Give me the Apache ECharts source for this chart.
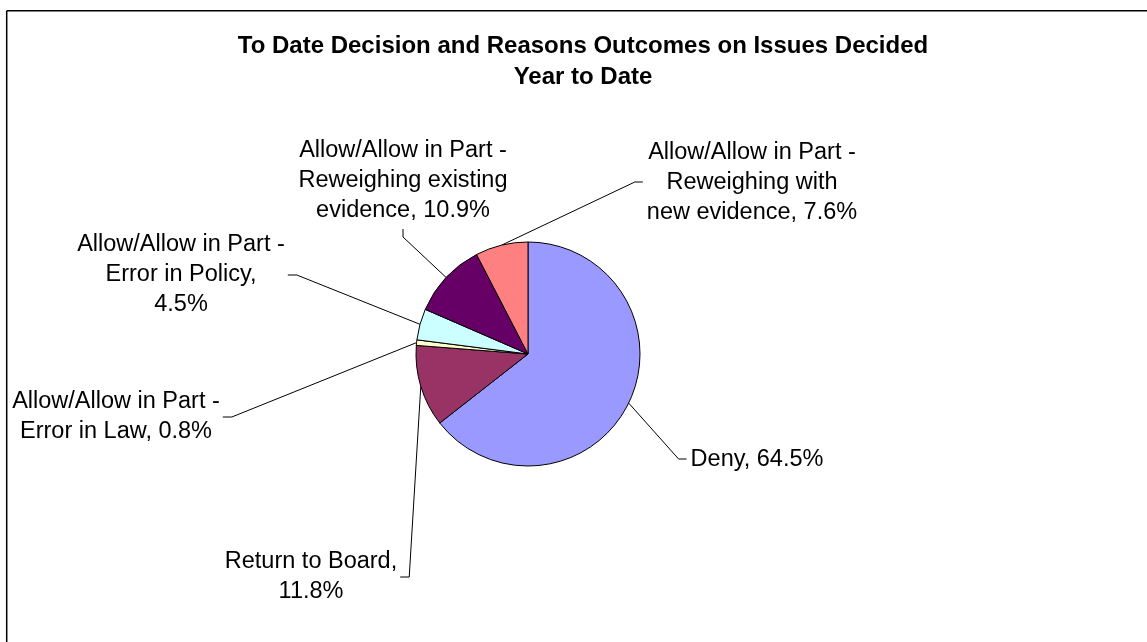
<!DOCTYPE html>
<html>
<head>
<meta charset="utf-8">
<script src="https://cdn.jsdelivr.net/npm/echarts@6/dist/echarts.min.js"></script>
<style>
html,body{margin:0;padding:0;background:#fff;}
#c{width:1147px;height:642px;}
</style>
</head>
<body>
<div id="c"></div>
<script>
const titleText = 'To Date Decision and Reasons Outcomes on Issues Decided\nYear to Date';
const categories = [
  'Deny',
  'Return to Board',
  'Allow/Allow in Part - Error in Law',
  'Allow/Allow in Part - Error in Policy',
  'Allow/Allow in Part - Reweighing existing evidence',
  'Allow/Allow in Part - Reweighing with new evidence'
];
const shares = [64.5, 11.8, 0.8, 4.5, 10.9, 7.6];
const labelTexts = [
  'Deny, {v}%',
  'Return to Board,\n{v}%',
  'Allow/Allow in Part -\nError in Law, {v}%',
  'Allow/Allow in Part -\nError in Policy,\n{v}%',
  'Allow/Allow in Part -\nReweighing existing\nevidence, {v}%',
  'Allow/Allow in Part -\nReweighing with\nnew evidence, {v}%'
];
const sliceColors = ['#9999FF', '#993366', '#FFFFCC', '#CCFFFF', '#660066', '#FF8080'];

// label block centres and the side the leader line leaves from
const labelPlacement = [
  {x: 757, y: 460, side: 'left'},
  {x: 311, y: 577, side: 'right'},
  {x: 116, y: 417, side: 'right'},
  {x: 181, y: 275, side: 'right'},
  {x: 403, y: 181, side: 'bottom'},
  {x: 752, y: 183, side: 'left'}
];

const FONT = '"Liberation Sans", Arial, sans-serif';
const chart = echarts.init(document.getElementById('c'), null, {renderer: 'canvas'});

chart.setOption({
  backgroundColor: '#fff',
  animation: false,
  title: {
    text: titleText,
    left: 583,
    top: 30.5,
    textAlign: 'center',
    padding: 0,
    textStyle: {
      fontFamily: FONT,
      fontSize: 24,
      fontWeight: 'bold',
      lineHeight: 31,
      color: '#000'
    }
  },
  graphic: [
    {type: 'line', silent: true, shape: {x1: 6.7, y1: 10.7, x2: 1147, y2: 10.7}, style: {stroke: '#000', lineWidth: 1.5}},
    {type: 'line', silent: true, shape: {x1: 6.7, y1: 10.7, x2: 6.7, y2: 642}, style: {stroke: '#000', lineWidth: 1.5}}
  ],
  series: [{
    type: 'pie',
    center: [528, 354],
    radius: 112,
    startAngle: 90,
    clockwise: true,
    avoidLabelOverlap: false,
    emphasis: {disabled: true},
    itemStyle: {borderColor: '#000', borderWidth: 1},
    label: {
      show: true,
      position: 'outside',
      fontFamily: FONT,
      fontSize: 23.5,
      lineHeight: 30,
      color: '#000',
      formatter: function (p) {
        return labelTexts[p.dataIndex].replace('{v}', p.value.toFixed(1));
      }
    },
    labelLine: {
      show: true,
      length: 10,
      length2: 10,
      smooth: false,
      lineStyle: {color: '#000', width: 1}
    },
    labelLayout: function (p) {
      const pl = labelPlacement[p.dataIndex];
      const w = p.labelRect.width, h = p.labelRect.height;
      const out = {x: pl.x, y: pl.y, align: 'center', verticalAlign: 'middle'};
      if (p.labelLinePoints && p.labelLinePoints.length) {
        const s = p.labelLinePoints[0];
        let e, t;
        if (pl.side === 'left') {
          e = [pl.x - w / 2 - 4, pl.y - 1];
          t = [e[0] - 8, e[1]];
        } else if (pl.side === 'right') {
          e = [pl.x + w / 2 + 3, pl.y];
          t = [e[0] + 9, e[1]];
        } else {
          e = [pl.x, pl.y + h / 2 + 3];
          t = [pl.x, e[1] + 8];
        }
        out.labelLinePoints = [[s[0], s[1]], t, e];
      }
      return out;
    },
    data: shares.map(function (v, i) {
      return {name: categories[i], value: v, itemStyle: {color: sliceColors[i]}};
    })
  }]
});
</script>
</body>
</html>
